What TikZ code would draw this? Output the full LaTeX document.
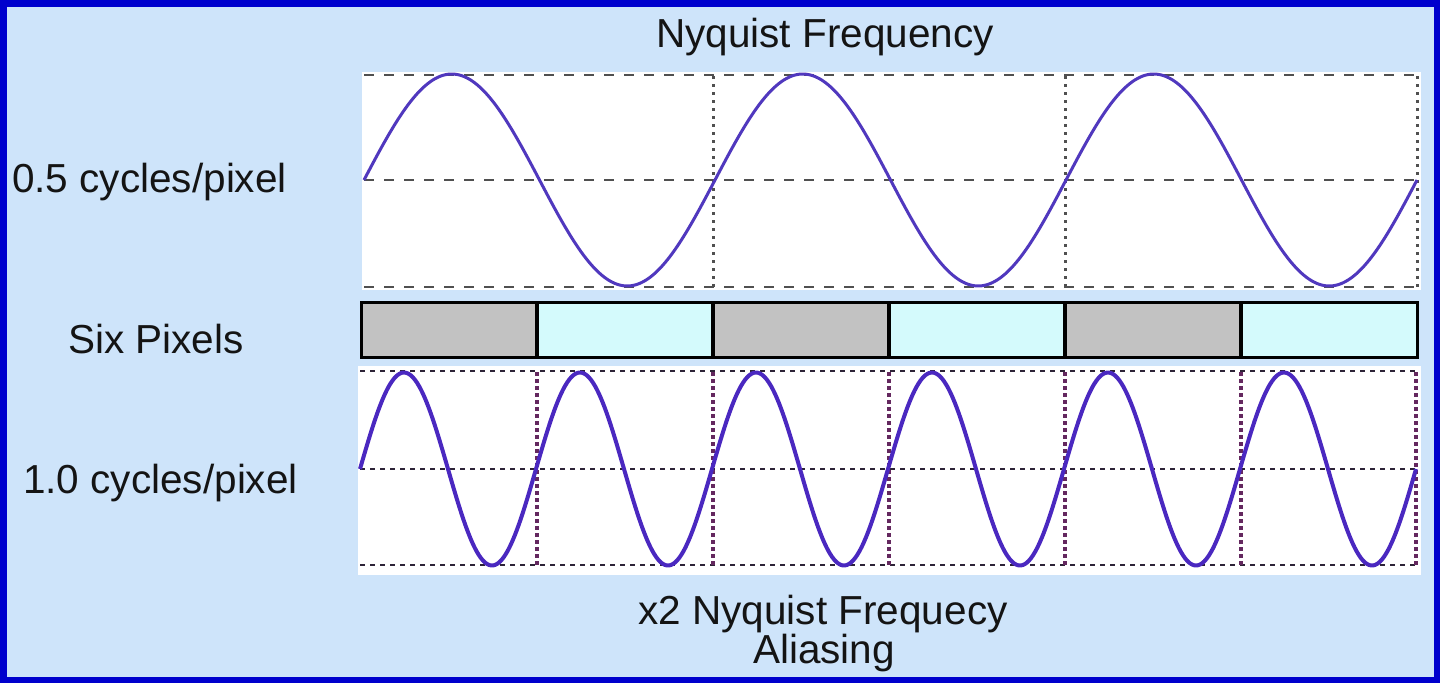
\documentclass[tikz,border=0pt]{standalone}
\usepackage{fontspec}
\setmainfont{Liberation Sans}
\definecolor{bgblue}{RGB}{206,228,250}
\definecolor{frameblue}{RGB}{0,0,205}
\definecolor{wavecol}{RGB}{80,56,190}
\definecolor{wavecolb}{RGB}{74,40,192}
\definecolor{gridgray}{RGB}{80,80,80}
\definecolor{griddark}{RGB}{45,35,55}
\definecolor{gridpurple}{RGB}{100,40,95}
\definecolor{pxgray}{RGB}{194,194,194}
\definecolor{pxcyan}{RGB}{212,250,252}
\tikzset{
  lbl/.style={inner sep=0pt, font=\fontsize{40.5}{44}\selectfont, text=black!92},
  topgrid/.style={draw=gridgray, line width=2.6pt, dash pattern=on 10pt off 10pt},
  topvert/.style={draw=gridgray, line width=3pt, dash pattern=on 3pt off 5pt},
  botgrid/.style={draw=griddark, line width=2.8pt, dash pattern=on 5pt off 5pt},
  botvert/.style={draw=gridpurple, line width=3.5pt, dash pattern=on 3.5pt off 3.5pt},
  pxbox/.style={draw=black, line width=3pt},
}
\begin{document}
\begin{tikzpicture}[x=1pt,y=-1pt]
\useasboundingbox (0,0) rectangle (1440,683);
% background and frame
\fill[bgblue] (0,0) rectangle (1440,683);
\draw[frameblue, line width=6.5pt] (3.25,3.25) rectangle (1436.75,679.75);
% top panel
\fill[white] (362,72) rectangle (1421,290);
\draw[topgrid] (364,75) -- (1419,75);
\draw[topgrid] (364,180) -- (1419,180);
\draw[topgrid] (364,287) -- (1419,287);
\foreach \vx in {713,1065,1417} \draw[topvert] (\vx,76) -- (\vx,287);
\draw[wavecol, line width=3pt, line join=round] plot[domain=0:1053, samples=400, smooth] ({364+\x}, {180-106*sin(\x/351*360)});
% pixel bar
\foreach \i/\c in {0/pxgray,1/pxcyan,2/pxgray,3/pxcyan,4/pxgray,5/pxcyan}
  \fill[\c] ({361+176*\i},302) rectangle ({361+176*(\i+1)},357);
\foreach \i in {1,...,5} \draw[black, line width=3.5pt] ({361+176*\i},302) -- ({361+176*\i},357);
\draw[pxbox] (361,302) rectangle (1417,357);
% bottom panel
\fill[white] (358,366) rectangle (1421,575);
\draw[botgrid] (360,371) -- (1417,371);
\draw[botgrid] (360,469) -- (1417,469);
\draw[botgrid] (360,565) -- (1417,565);
\foreach \vx in {537,713,889,1065,1241,1416} \draw[botvert] (\vx,372) -- (\vx,566);
\draw[wavecolb, line width=4pt, line join=round] plot[domain=0:1056, samples=500, smooth] ({360+\x}, {469-96.5*sin(\x/176*360)});
% labels
\node[lbl, anchor=base] (title) at (825,47) {Nyquist Frequency};
\node[lbl, anchor=base west] (half) at (12,192) {0.5 cycles/pixel};
\node[lbl, anchor=base west] (six) at (68,353) {Six Pixels};
\node[lbl, anchor=base west] (one) at (23,493) {1.0 cycles/pixel};
\node[lbl, anchor=base] (x2) at (823,624) {x2 Nyquist Frequecy};
\node[lbl, anchor=base] (alias) at (824,663) {Aliasing};
\end{tikzpicture}
\end{document}
